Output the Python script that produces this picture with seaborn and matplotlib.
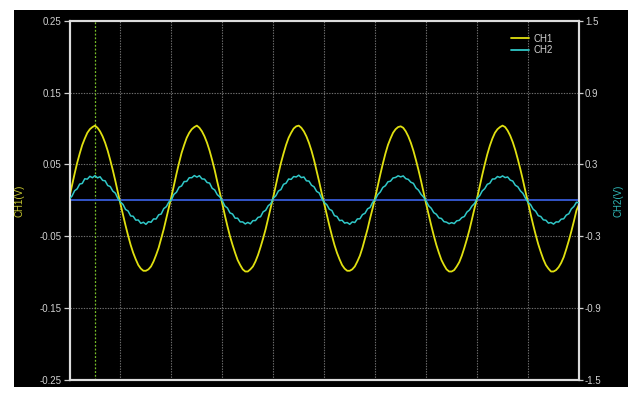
import numpy as np
import pandas as pd
import matplotlib
matplotlib.use("Agg")
import matplotlib.pyplot as plt
from matplotlib.patches import Rectangle
from matplotlib.lines import Line2D
import seaborn as sns

# ---- data ----
sample_step_div = 0.05  # time step in screen divisions
ch1_v = [
    0.005, 0.021, 0.037, 0.052, 0.065, 0.077, 0.086, 0.094, 0.099, 0.102,
    0.104, 0.101, 0.096, 0.089, 0.080, 0.069, 0.056, 0.042, 0.027, 0.011,
    -0.005, -0.020, -0.035, -0.049, -0.062, -0.073, -0.082, -0.090, -0.095, -0.098,
    -0.098, -0.096, -0.092, -0.085, -0.076, -0.066, -0.053, -0.040, -0.025, -0.010,
    0.005, 0.021, 0.037, 0.052, 0.066, 0.077, 0.087, 0.094, 0.099, 0.102,
    0.104, 0.101, 0.096, 0.089, 0.080, 0.069, 0.056, 0.042, 0.026, 0.011,
    -0.005, -0.021, -0.036, -0.050, -0.062, -0.073, -0.083, -0.090, -0.096, -0.099,
    -0.099, -0.096, -0.092, -0.085, -0.076, -0.065, -0.053, -0.040, -0.025, -0.010,
    0.005, 0.021, 0.037, 0.052, 0.065, 0.077, 0.087, 0.094, 0.100, 0.103,
    0.104, 0.101, 0.096, 0.089, 0.080, 0.069, 0.056, 0.041, 0.026, 0.010,
    -0.005, -0.020, -0.035, -0.049, -0.062, -0.073, -0.082, -0.090, -0.095, -0.098,
    -0.098, -0.096, -0.092, -0.085, -0.077, -0.066, -0.053, -0.040, -0.025, -0.011,
    0.004, 0.020, 0.036, 0.051, 0.065, 0.077, 0.086, 0.094, 0.099, 0.102,
    0.103, 0.101, 0.096, 0.089, 0.080, 0.069, 0.056, 0.042, 0.027, 0.011,
    -0.005, -0.020, -0.035, -0.049, -0.062, -0.073, -0.083, -0.090, -0.096, -0.099,
    -0.099, -0.097, -0.092, -0.086, -0.077, -0.066, -0.054, -0.041, -0.026, -0.011,
    0.003, 0.019, 0.035, 0.050, 0.064, 0.076, 0.086, 0.094, 0.099, 0.102,
    0.104, 0.102, 0.097, 0.090, 0.081, 0.070, 0.057, 0.043, 0.028, 0.012,
    -0.003, -0.019, -0.034, -0.048, -0.061, -0.072, -0.082, -0.090, -0.095, -0.099,
    -0.099, -0.097, -0.093, -0.087, -0.079, -0.068, -0.056, -0.043, -0.029, -0.014,
    -0.006,
]
ch2_v = [
    0.014, 0.036, 0.080, 0.096, 0.136, 0.141, 0.180, 0.177, 0.201, 0.189,
    0.206, 0.188, 0.197, 0.167, 0.163, 0.124, 0.115, 0.077, 0.060, 0.015,
    -0.014, -0.034, -0.076, -0.089, -0.130, -0.133, -0.165, -0.164, -0.192, -0.183,
    -0.200, -0.178, -0.183, -0.155, -0.156, -0.121, -0.114, -0.069, -0.053, -0.014,
    0.004, 0.050, 0.068, 0.110, 0.120, 0.157, 0.158, 0.189, 0.189, 0.207,
    0.194, 0.206, 0.179, 0.177, 0.149, 0.144, 0.101, 0.087, 0.048, 0.029,
    -0.004, -0.048, -0.064, -0.105, -0.114, -0.149, -0.149, -0.180, -0.180, -0.197,
    -0.184, -0.196, -0.169, -0.169, -0.142, -0.137, -0.096, -0.083, -0.045, -0.028,
    0.018, 0.038, 0.078, 0.090, 0.134, 0.143, 0.178, 0.175, 0.199, 0.195,
    0.210, 0.190, 0.195, 0.163, 0.161, 0.126, 0.113, 0.075, 0.062, 0.017,
    -0.018, -0.036, -0.074, -0.085, -0.128, -0.135, -0.169, -0.166, -0.190, -0.185,
    -0.200, -0.180, -0.185, -0.155, -0.154, -0.119, -0.108, -0.071, -0.059, -0.016,
    0.006, 0.048, 0.070, 0.108, 0.122, 0.155, 0.160, 0.187, 0.191, 0.205,
    0.196, 0.204, 0.181, 0.175, 0.151, 0.142, 0.103, 0.085, 0.050, 0.027,
    -0.006, -0.046, -0.066, -0.103, -0.116, -0.147, -0.151, -0.178, -0.182, -0.195,
    -0.186, -0.194, -0.171, -0.167, -0.144, -0.135, -0.098, -0.081, -0.047, -0.026,
    0.016, 0.038, 0.078, 0.098, 0.134, 0.143, 0.178, 0.179, 0.199, 0.191,
    0.204, 0.190, 0.195, 0.169, 0.161, 0.126, 0.113, 0.079, 0.058, 0.017,
    -0.016, -0.036, -0.074, -0.091, -0.128, -0.135, -0.163, -0.166, -0.190, -0.185,
    -0.198, -0.180, -0.181, -0.157, -0.154, -0.123, -0.112, -0.071, -0.051, -0.016,
    -0.020,
]
time_div = np.arange(len(ch1_v)) * sample_step_div
n_div = 10
cursor_div = 0.5
ref_level = 0.0

ch1_ticks = [0.25, 0.15, 0.05, -0.05, -0.15, -0.25]
ch1_ticklabels = ["0.25", "0.15", "0.05", "-0.05", "-0.15", "-0.25"]
ch2_ticks = [1.5, 0.9, 0.3, -0.3, -0.9, -1.5]
ch2_ticklabels = ["1.5", "0.9", "0.3", "-0.3", "-0.9", "-1.5"]
series_names = ["CH1", "CH2"]

df = pd.DataFrame({"t": time_div, "CH1": ch1_v, "CH2": ch2_v})

# ---- styling ----
sns.set_style("dark", {"axes.facecolor": "black"})
plt.rcParams["font.family"] = ["Liberation Sans", "DejaVu Sans"]

c_yellow = "#e0e010"
c_cyan = "#30c8c8"
c_blue = "#3355c8"
c_grid = "#707070"
c_text = "#d0d0d0"
c_spine = "#dcdcdc"

W, H = 643, 398
fig = plt.figure(figsize=(W / 100, H / 100), dpi=100, facecolor="white")
fig.patches.append(Rectangle((14 / W, 1 - 387 / H), (628 - 14) / W, (387 - 10) / H,
                             transform=fig.transFigure, facecolor="black",
                             edgecolor="none", zorder=-10))

ax = fig.add_axes([69.5 / W, 1 - 380 / H, (579 - 69.5) / W, (380 - 20.7) / H])
ax.set_facecolor("black")
ax2 = ax.twinx()

# grid
for k in range(1, n_div):
    ax.axvline(k, color=c_grid, lw=0.8, ls=(0, (1.2, 1.2)), zorder=1)
for v in ch1_ticks[1:-1]:
    ax.axhline(v, color=c_grid, lw=0.8, ls=(0, (1.2, 1.2)), zorder=1)
ax.axvline(cursor_div, color="#78c028", lw=0.9, ls=(0, (1.5, 1.5)), zorder=2)

sns.lineplot(data=df, x="t", y="CH1", ax=ax, color=c_yellow, lw=1.3, zorder=4)
ax.axhline(ref_level, color=c_blue, lw=1.4, zorder=3)
sns.lineplot(data=df, x="t", y="CH2", ax=ax2, color=c_cyan, lw=1.1, zorder=4)

ax.set_xlim(0, n_div)
ax.set_ylim(-0.25, 0.25)
ax2.set_ylim(-1.5, 1.5)
ax.set_xticks([])
ax.set_xlabel("")
ax2.set_xlabel("")

ax.set_yticks(ch1_ticks)
ax.set_yticklabels(ch1_ticklabels)
ax2.set_yticks(ch2_ticks)
ax2.set_yticklabels(ch2_ticklabels)
ax.tick_params(axis="y", colors=c_text, labelsize=7, length=4.5, width=0.9,
               pad=1.2, direction="out", left=True)
ax2.tick_params(axis="y", colors=c_text, labelsize=7, length=3.2, width=0.9,
                pad=1.0, direction="out", right=True)
ax.grid(False)
ax2.grid(False)

for a in (ax, ax2):
    for s in a.spines.values():
        s.set_color(c_spine)
        s.set_linewidth(1.5)
        s.set_visible(True)

ax.set_ylabel("CH1(V)", color="#c8c830", fontsize=7)
ax.yaxis.set_label_coords((24.5 - 69.5) / 509.5, 0.5)
ax2.set_ylabel("CH2(V)", color="#30b8b8", fontsize=7)
ax2.yaxis.set_label_coords((613 - 69.5) / 509.5, 0.5)

handles = [Line2D([], [], color=c_yellow, lw=1.3),
           Line2D([], [], color=c_cyan, lw=1.3)]
leg = ax2.legend(handles, series_names, loc="upper left",
                 bbox_to_anchor=((511 - 69.5) / 509.5, (380 - 33.5) / 359.3),
                 frameon=False, fontsize=7, handlelength=1.9, handletextpad=0.4,
                 labelspacing=0.15, borderpad=0, borderaxespad=0)
for t in leg.get_texts():
    t.set_color(c_text)

fig.savefig("out.png", dpi=100, facecolor="white")
